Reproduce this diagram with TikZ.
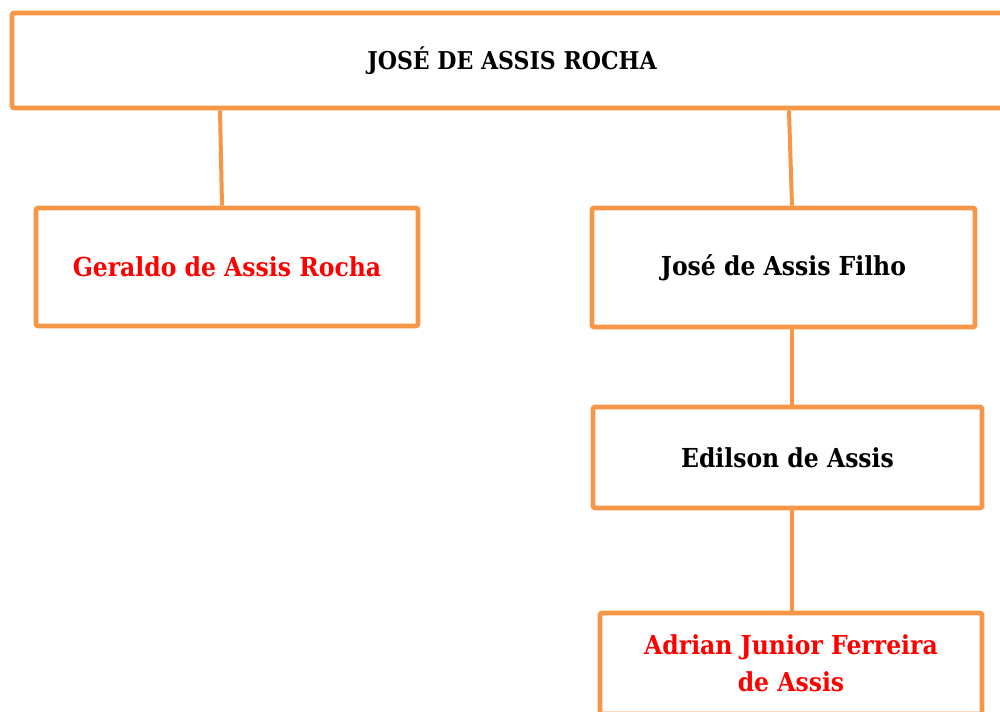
\documentclass[tikz,border=0pt]{standalone}
\usepackage{fontspec}
\setmainfont{DejaVu Serif Condensed}
\definecolor{boxorange}{HTML}{F79646}
\definecolor{namered}{HTML}{FF0000}
\tikzset{
  famcard/.style={draw=boxorange, line width=3.5pt, rounded corners=1.5pt, fill=white, inner sep=0pt, align=center, font=\fontsize{19.6}{27.75}\selectfont\bfseries},
  famlink/.style={draw=boxorange, line width=3pt}
}
\begin{document}
\begin{tikzpicture}[x=0.75pt,y=-0.75pt]
\useasboundingbox (0,0) rectangle (1000,711);
\node[famcard, minimum width=750pt, minimum height=71.25pt, font=\fontsize{18.4}{24}\selectfont\bfseries] (top) at (512,60.5) {JOSÉ DE ASSIS ROCHA};
\node[famcard, minimum width=286.5pt, minimum height=88.5pt, text=namered] (ger) at (227,267) {Geraldo de Assis Rocha};
\node[famcard, minimum width=287.25pt, minimum height=89.25pt] (jos) at (783.5,267.5) {José de Assis Filho};
\node[famcard, minimum width=291.75pt, minimum height=75.75pt] (edi) at (787.5,457.5) {Edilson de Assis};
\node[famcard, minimum width=286.5pt, minimum height=75.75pt, text=namered] (adr) at (791,663.5) {Adrian Junior Ferreira\\de Assis};
\draw[famlink] ([xshift=-219pt]top.south) -- ([xshift=-3.75pt]ger.north);
\draw[famlink] ([xshift=207.75pt]top.south) -- ([xshift=6.375pt]jos.north);
\draw[famlink] ([xshift=6.375pt]jos.south) -- ([xshift=3.375pt]edi.north);
\draw[famlink] ([xshift=3.375pt]edi.south) -- ([xshift=0.75pt]adr.north);
\end{tikzpicture}
\end{document}
